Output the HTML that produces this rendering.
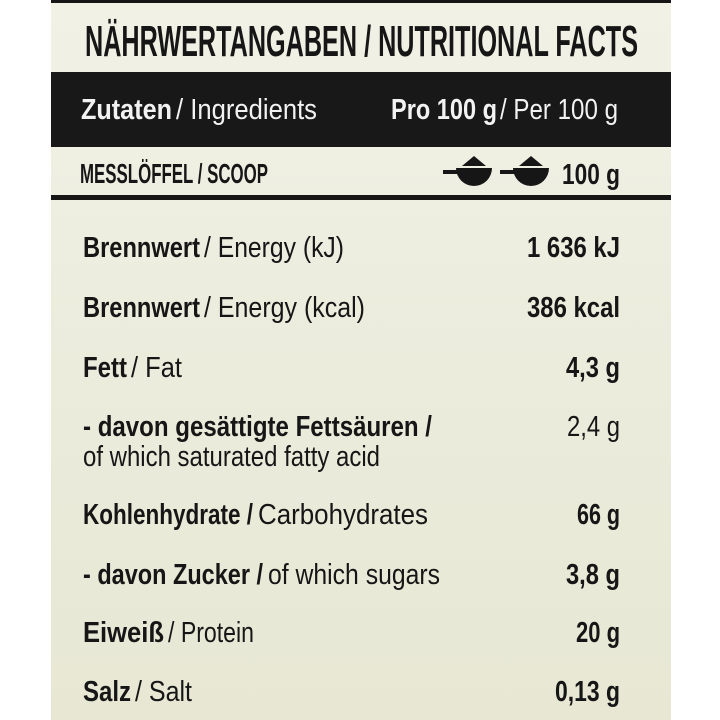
<!DOCTYPE html>
<html><head><meta charset="utf-8"><style>
html,body{margin:0;padding:0;background:#fff;width:720px;height:720px;overflow:hidden}
svg{display:block}
text{font-family:"Liberation Sans Narrow","Liberation Sans",sans-serif;fill:#161616}
.b{font-weight:bold}
</style></head><body>
<svg width="720" height="720" viewBox="0 0 720 720" xmlns="http://www.w3.org/2000/svg">
<defs><linearGradient id="g" x1="0" y1="0" x2="0" y2="1">
<stop offset="0" stop-color="#f1f1e6"/><stop offset="1" stop-color="#e7e7d4"/></linearGradient></defs>
<rect x="51" y="0" width="620" height="720" fill="url(#g)"/>
<rect x="51" y="0" width="620" height="3" fill="#161616"/>
<text class="b" x="85" y="56" font-size="44" textLength="553" lengthAdjust="spacingAndGlyphs">NÄHRWERTANGABEN / NUTRITIONAL FACTS</text>
<rect x="51" y="72" width="620" height="75" fill="#181818"/>
<g font-size="29">
<text class="b" x="81" y="119" style="fill:#f2f2f2" textLength="91" lengthAdjust="spacingAndGlyphs">Zutaten</text>
<text x="176" y="119" style="fill:#f2f2f2" textLength="141" lengthAdjust="spacingAndGlyphs">/ Ingredients</text>
<text class="b" x="391" y="119" style="fill:#f2f2f2" textLength="106" lengthAdjust="spacingAndGlyphs">Pro 100 g</text>
<text x="500" y="119" style="fill:#f2f2f2" textLength="118" lengthAdjust="spacingAndGlyphs">/ Per 100 g</text>
</g>
<text class="b" x="80" y="183" font-size="28" textLength="188" lengthAdjust="spacingAndGlyphs">MESSLÖFFEL / SCOOP</text>
<g fill="#161616">
<rect x="443" y="170" width="22" height="4"/><path d="M456 168 h36 a18 18 0 0 1 -36 0z"/><path d="M462 166 l12 -10 l12 10z"/>
<rect x="500" y="170" width="22" height="4"/><path d="M513 168 h36 a18 18 0 0 1 -36 0z"/><path d="M519 166 l12 -10 l12 10z"/>
</g>
<text class="b" x="562" y="184" font-size="29" textLength="58" lengthAdjust="spacingAndGlyphs">100 g</text>
<rect x="51" y="195" width="620" height="5" fill="#161616"/>
<g font-size="29">
<text class="b" x="83" y="257" textLength="117" lengthAdjust="spacingAndGlyphs">Brennwert</text>
<text x="204" y="257" textLength="140" lengthAdjust="spacingAndGlyphs">/ Energy (kJ)</text>
<text class="b" x="527" y="257" textLength="93" lengthAdjust="spacingAndGlyphs">1 636 kJ</text>

<text class="b" x="83" y="317" textLength="117" lengthAdjust="spacingAndGlyphs">Brennwert</text>
<text x="204" y="317" textLength="161" lengthAdjust="spacingAndGlyphs">/ Energy (kcal)</text>
<text class="b" x="527" y="317" textLength="93" lengthAdjust="spacingAndGlyphs">386 kcal</text>

<text class="b" x="83" y="377" textLength="44" lengthAdjust="spacingAndGlyphs">Fett</text>
<text x="131" y="377" textLength="51" lengthAdjust="spacingAndGlyphs">/ Fat</text>
<text class="b" x="566" y="377" textLength="54" lengthAdjust="spacingAndGlyphs">4,3 g</text>

<text class="b" x="83" y="436" textLength="349" lengthAdjust="spacingAndGlyphs">- davon gesättigte Fettsäuren /</text>
<text x="83" y="466" textLength="297" lengthAdjust="spacingAndGlyphs">of which saturated fatty acid</text>
<text x="567" y="436" textLength="53" lengthAdjust="spacingAndGlyphs">2,4 g</text>

<text class="b" x="83" y="524" textLength="170" lengthAdjust="spacingAndGlyphs">Kohlenhydrate /</text>
<text x="258" y="524" textLength="170" lengthAdjust="spacingAndGlyphs">Carbohydrates</text>
<text class="b" x="577" y="524" textLength="43" lengthAdjust="spacingAndGlyphs">66 g</text>

<text class="b" x="83" y="584" textLength="180" lengthAdjust="spacingAndGlyphs">- davon Zucker /</text>
<text x="268" y="584" textLength="172" lengthAdjust="spacingAndGlyphs">of which sugars</text>
<text class="b" x="566" y="584" textLength="54" lengthAdjust="spacingAndGlyphs">3,8 g</text>

<text class="b" x="83" y="642" textLength="81" lengthAdjust="spacingAndGlyphs">Eiweiß</text>
<text x="168" y="642" textLength="86" lengthAdjust="spacingAndGlyphs">/ Protein</text>
<text class="b" x="576" y="642" textLength="44" lengthAdjust="spacingAndGlyphs">20 g</text>

<text class="b" x="83" y="701" textLength="48" lengthAdjust="spacingAndGlyphs">Salz</text>
<text x="135" y="701" textLength="57" lengthAdjust="spacingAndGlyphs">/ Salt</text>
<text class="b" x="555" y="701" textLength="65" lengthAdjust="spacingAndGlyphs">0,13 g</text>
</g>
</svg>
</body></html>
